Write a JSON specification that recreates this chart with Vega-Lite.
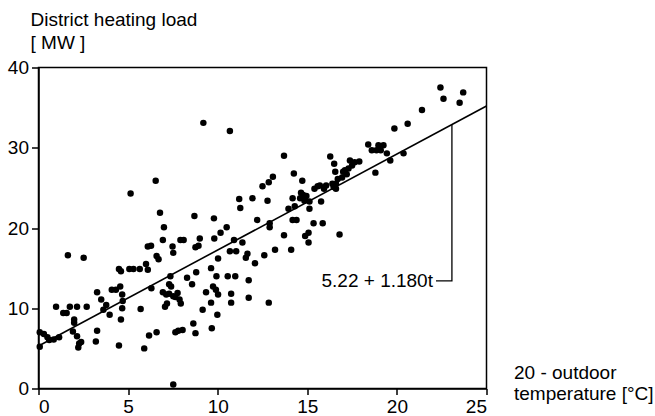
{
  "$schema": "https://vega.github.io/schema/vega-lite/v6.json",
  "width": 448,
  "height": 321,
  "autosize": "none",
  "padding": {"left": 38.5, "top": 67.5, "right": 168.5, "bottom": 27.5},
  "config": {
    "view": {"stroke": "black", "strokeWidth": 1.5},
    "font": "Liberation Sans",
    "axis": {
      "grid": false,
      "domainColor": "black",
      "domainWidth": 1.5,
      "tickColor": "black",
      "tickWidth": 1.5,
      "labelColor": "black",
      "labelFont": "Liberation Sans",
      "labelFontSize": 19,
      "titleFont": "Liberation Sans",
      "titleFontSize": 19,
      "titleFontWeight": "normal",
      "titleColor": "black"
    }
  },
  "encoding": {
    "x": {
      "field": "t",
      "type": "quantitative",
      "scale": {"domain": [0, 25], "nice": false},
      "axis": {
        "values": [0, 5, 10, 15, 20, 25],
        "tickSize": 6,
        "labelPadding": 3,
        "title": ["20 - outdoor", "temperature [°C]"],
        "titleAngle": 0,
        "titleAlign": "left",
        "titleBaseline": "alphabetic",
        "titleLineHeight": 21,
        "titleX": 475,
        "titleY": -10.5
      }
    },
    "y": {
      "field": "load",
      "type": "quantitative",
      "scale": {"domain": [0, 40], "nice": false},
      "axis": {
        "values": [0, 10, 20, 30, 40],
        "tickSize": 7,
        "labelPadding": 3,
        "title": ["District heating load", "[ MW ]"],
        "titleAngle": 0,
        "titleAlign": "left",
        "titleBaseline": "alphabetic",
        "titleLineHeight": 23,
        "titleX": -8.5,
        "titleY": -42
      }
    }
  },
  "layer": [
    {
      "data": {"values": [
        {"t":0.07,"load":5.2},{"t":0.07,"load":7.0},{"t":0.3,"load":6.8},{"t":0.5,"load":6.4},{"t":0.6,"load":6.05},{"t":0.85,"load":6.1},{"t":1.15,"load":6.4},
        {"t":0.98,"load":10.2},{"t":1.38,"load":9.4},{"t":1.57,"load":9.4},{"t":1.75,"load":10.2},{"t":1.64,"load":16.6},{"t":1.92,"load":7.1},{"t":1.99,"load":8.6},{"t":1.99,"load":8.2},
        {"t":2.15,"load":6.5},{"t":2.15,"load":10.2},{"t":2.27,"load":5.6},{"t":2.38,"load":5.8},{"t":2.22,"load":5.1},{"t":2.52,"load":16.3},{"t":2.69,"load":10.2},
        {"t":3.2,"load":5.85},{"t":3.27,"load":7.2},{"t":3.27,"load":12.0},{"t":3.5,"load":11.1},{"t":3.62,"load":9.8},{"t":3.78,"load":10.4},{"t":3.97,"load":9.2},{"t":4.09,"load":12.3},{"t":4.32,"load":12.3},
        {"t":4.49,"load":5.35},{"t":4.49,"load":14.9},{"t":4.6,"load":14.6},{"t":4.56,"load":12.7},{"t":4.6,"load":8.6},{"t":4.67,"load":11.7},{"t":4.67,"load":10.0},{"t":4.7,"load":10.9},
        {"t":5.14,"load":24.3},{"t":5.07,"load":14.9},{"t":5.3,"load":14.9},{"t":5.65,"load":14.9},{"t":5.7,"load":9.9},{"t":5.9,"load":5.0},{"t":6.0,"load":15.5},{"t":6.1,"load":14.8},{"t":6.17,"load":6.6},
        {"t":6.1,"load":17.7},{"t":6.28,"load":17.8},{"t":6.3,"load":12.5},{"t":6.54,"load":25.9},{"t":6.59,"load":7.0},{"t":6.59,"load":16.5},{"t":6.7,"load":16.1},{"t":6.78,"load":21.9},{"t":6.94,"load":18.5},{"t":6.94,"load":12.0},
        {"t":7.0,"load":20.1},{"t":7.06,"load":10.2},{"t":7.13,"load":11.7},{"t":7.17,"load":10.6},{"t":7.29,"load":11.8},{"t":7.36,"load":14.0},{"t":7.29,"load":13.0},{"t":7.4,"load":12.7},{"t":7.48,"load":17.7},{"t":7.52,"load":16.9},
        {"t":7.52,"load":0.5},{"t":7.52,"load":11.5},{"t":7.64,"load":7.0},{"t":7.64,"load":11.4},{"t":7.76,"load":11.9},{"t":7.8,"load":7.2},{"t":7.87,"load":11.1},{"t":7.92,"load":18.5},{"t":7.94,"load":10.6},{"t":8.04,"load":7.3},{"t":8.1,"load":18.5},
        {"t":8.29,"load":13.8},{"t":8.57,"load":13.0},{"t":8.64,"load":8.1},{"t":8.7,"load":21.5},{"t":8.76,"load":6.9},{"t":8.76,"load":17.6},{"t":8.8,"load":14.5},{"t":8.93,"load":17.8},{"t":9.0,"load":18.7},
        {"t":9.2,"load":33.1},{"t":9.16,"load":9.8},{"t":9.35,"load":12.0},{"t":9.63,"load":15.0},{"t":9.63,"load":10.7},{"t":9.67,"load":7.5},{"t":9.74,"load":12.7},{"t":9.79,"load":21.2},{"t":9.81,"load":18.7},{"t":9.9,"load":12.3},{"t":9.93,"load":14.0},{"t":9.98,"load":9.2},
        {"t":10.02,"load":16.2},{"t":10.02,"load":11.7},{"t":10.16,"load":19.4},{"t":10.5,"load":20.1},{"t":10.56,"load":14.0},{"t":10.68,"load":32.1},{"t":10.68,"load":17.1},{"t":10.75,"load":11.8},{"t":10.75,"load":10.7},{"t":10.91,"load":18.5},{"t":10.98,"load":14.0},
        {"t":11.03,"load":17.1},{"t":11.2,"load":23.6},{"t":11.26,"load":22.5},{"t":11.38,"load":18.2},{"t":11.57,"load":16.3},{"t":11.66,"load":16.8},{"t":11.73,"load":11.3},{"t":11.73,"load":13.5},{"t":11.94,"load":23.7},
        {"t":12.08,"load":15.6},{"t":12.2,"load":21.0},{"t":12.6,"load":16.6},{"t":12.5,"load":25.2},{"t":12.78,"load":23.4},{"t":12.85,"load":25.7},{"t":12.85,"load":10.7},{"t":12.9,"load":20.6},{"t":12.9,"load":20.1},
        {"t":13.08,"load":26.4},{"t":13.2,"load":17.3},{"t":13.7,"load":29.0},{"t":13.7,"load":19.1},{"t":13.95,"load":22.4},{"t":14.1,"load":17.3},{"t":14.18,"load":21.0},{"t":14.18,"load":23.7},{"t":14.25,"load":26.8},{"t":14.3,"load":22.7},{"t":14.4,"load":21.0},
        {"t":14.6,"load":23.7},{"t":14.65,"load":24.4},{"t":14.72,"load":25.9},{"t":14.77,"load":24.1},{"t":14.84,"load":23.4},{"t":14.88,"load":19.0},{"t":14.95,"load":24.0},
        {"t":15.07,"load":19.4},{"t":15.07,"load":18.2},{"t":15.12,"load":22.4},{"t":15.12,"load":23.3},{"t":15.35,"load":20.6},{"t":15.4,"load":24.9},{"t":15.58,"load":25.2},{"t":15.7,"load":25.3},{"t":15.77,"load":23.3},{"t":15.86,"load":20.6},{"t":15.93,"load":24.9},
        {"t":16.05,"load":25.3},{"t":16.28,"load":28.9},{"t":16.4,"load":25.5},{"t":16.47,"load":25.1},{"t":16.5,"load":28.0},{"t":16.56,"load":27.0},{"t":16.6,"load":25.5},{"t":16.6,"load":24.9},{"t":16.7,"load":26.1},{"t":16.8,"load":19.2},{"t":16.94,"load":26.3},
        {"t":17.0,"load":27.0},{"t":17.1,"load":27.2},{"t":17.2,"load":26.7},{"t":17.3,"load":27.4},{"t":17.38,"load":28.4},{"t":17.5,"load":27.8},{"t":17.64,"load":28.2},{"t":17.9,"load":28.3},
        {"t":18.4,"load":30.4},{"t":18.6,"load":29.7},{"t":18.8,"load":26.9},{"t":18.86,"load":29.7},{"t":18.97,"load":30.3},{"t":19.1,"load":29.7},{"t":19.25,"load":30.3},{"t":19.44,"load":29.3},{"t":19.63,"load":28.4},{"t":19.86,"load":32.4},
        {"t":20.37,"load":29.3},{"t":20.6,"load":33.0},{"t":21.4,"load":34.7},{"t":22.43,"load":37.5},{"t":22.6,"load":36.1},{"t":23.5,"load":35.6},{"t":23.7,"load":36.9}
      ]},
      "mark": {"type": "circle", "size": 42, "color": "black", "opacity": 1}
    },
    {
      "data": {"values": [{"t": 0, "load": 5.3}, {"t": 25, "load": 35.2}]},
      "mark": {"type": "line", "color": "black", "strokeWidth": 1.6}
    },
    {
      "data": {"values": [
        {"seq": 1, "t": 23.07, "load": 32.9},
        {"seq": 2, "t": 23.07, "load": 13.4},
        {"seq": 3, "t": 22.18, "load": 13.4}
      ]},
      "mark": {"type": "line", "color": "black", "strokeWidth": 1.3},
      "encoding": {"order": {"field": "seq", "type": "quantitative"}}
    },
    {
      "data": {"values": [{"t": 22.18, "load": 13.4, "label": "5.22 + 1.180t"}]},
      "mark": {"type": "text", "align": "right", "baseline": "middle", "dx": -3, "fontSize": 19, "font": "Liberation Sans", "color": "black"},
      "encoding": {"text": {"field": "label"}}
    }
  ]
}
